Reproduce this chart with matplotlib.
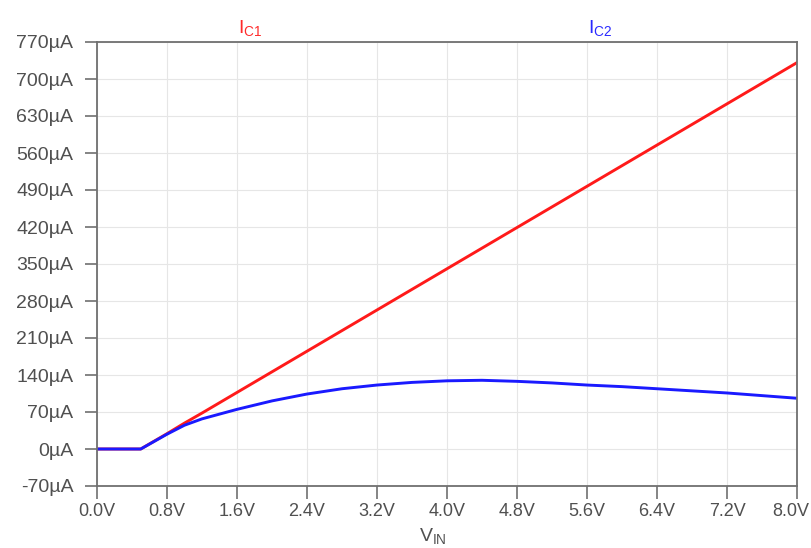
import numpy as np
import matplotlib
matplotlib.use('Agg')
import matplotlib.pyplot as plt
import matplotlib.transforms as mtransforms
from matplotlib.ticker import FixedLocator

# V_IN sweep (V)
v_in = [0.0, 0.5, 0.8, 1.0, 1.2, 1.6, 2.0, 2.4, 2.8, 3.2, 3.6, 4.0,
        4.4, 4.8, 5.2, 5.6, 6.0, 6.4, 6.8, 7.2, 7.6, 8.0]
# collector currents (uA)
ic1 = [0.0, 0.0, 29, 49, 68, 107, 146, 185, 224, 263, 302, 341,
       380, 419, 458, 497, 536, 575, 614, 653, 692, 731]
ic2 = [0.0, 0.0, 28, 45, 57, 75, 91, 104, 114, 121, 126, 129,
       130, 128, 125, 121, 118, 114, 110, 106, 101, 96]

x_ticks = [0.0, 0.8, 1.6, 2.4, 3.2, 4.0, 4.8, 5.6, 6.4, 7.2, 8.0]
y_ticks = [-70, 0, 70, 140, 210, 280, 350, 420, 490, 560, 630, 700, 770]

plt.rcParams['font.family'] = ['Liberation Sans', 'DejaVu Sans']
txt = '#505050'

fig = plt.figure(figsize=(8.11, 5.48), dpi=100)
ax = fig.add_axes([97/811, 1 - 486/548, 700/811, 444/548])

ax.plot(v_in, ic1, color='#ff1a1a', lw=2.1)
ax.plot(v_in, ic2, color='#1a1aff', lw=2.1)

ax.set_xlim(0, 8)
ax.set_ylim(-70, 770)
ax.xaxis.set_major_locator(FixedLocator(x_ticks))
ax.yaxis.set_major_locator(FixedLocator(y_ticks))
ax.set_xticklabels(['%.1fV' % v for v in x_ticks])
ax.set_yticklabels(['%dµA' % v for v in y_ticks])
ax.tick_params(colors='#707070', labelcolor=txt, labelsize=14, length=9, width=1.2)
ax.tick_params(axis='y', pad=8)
ax.tick_params(axis='x', pad=3, labelsize=13)
ax.grid(color='#e6e6e6', lw=0.8)
for s in ax.spines.values():
    s.set_color('#707070')
    s.set_linewidth(1.3)

# nudge the last x label so it stays inside the figure
last = ax.get_xticklabels()[-1]
last.set_transform(last.get_transform() +
                   mtransforms.ScaledTranslation(-6/100, 0, fig.dpi_scale_trans))

ax.text(1.75, 775, r'I$_{\mathregular{C1}}$', color='#ff2a2a', fontsize=14,
        ha='center', va='bottom')
ax.text(5.75, 775, r'I$_{\mathregular{C2}}$', color='#2a2aff', fontsize=14,
        ha='center', va='bottom')
fig.text(433/811, 1 - 537/548, r'V$_{\mathregular{IN}}$', color=txt, fontsize=14,
         ha='center', va='center')

fig.savefig('out.png', dpi=100)
